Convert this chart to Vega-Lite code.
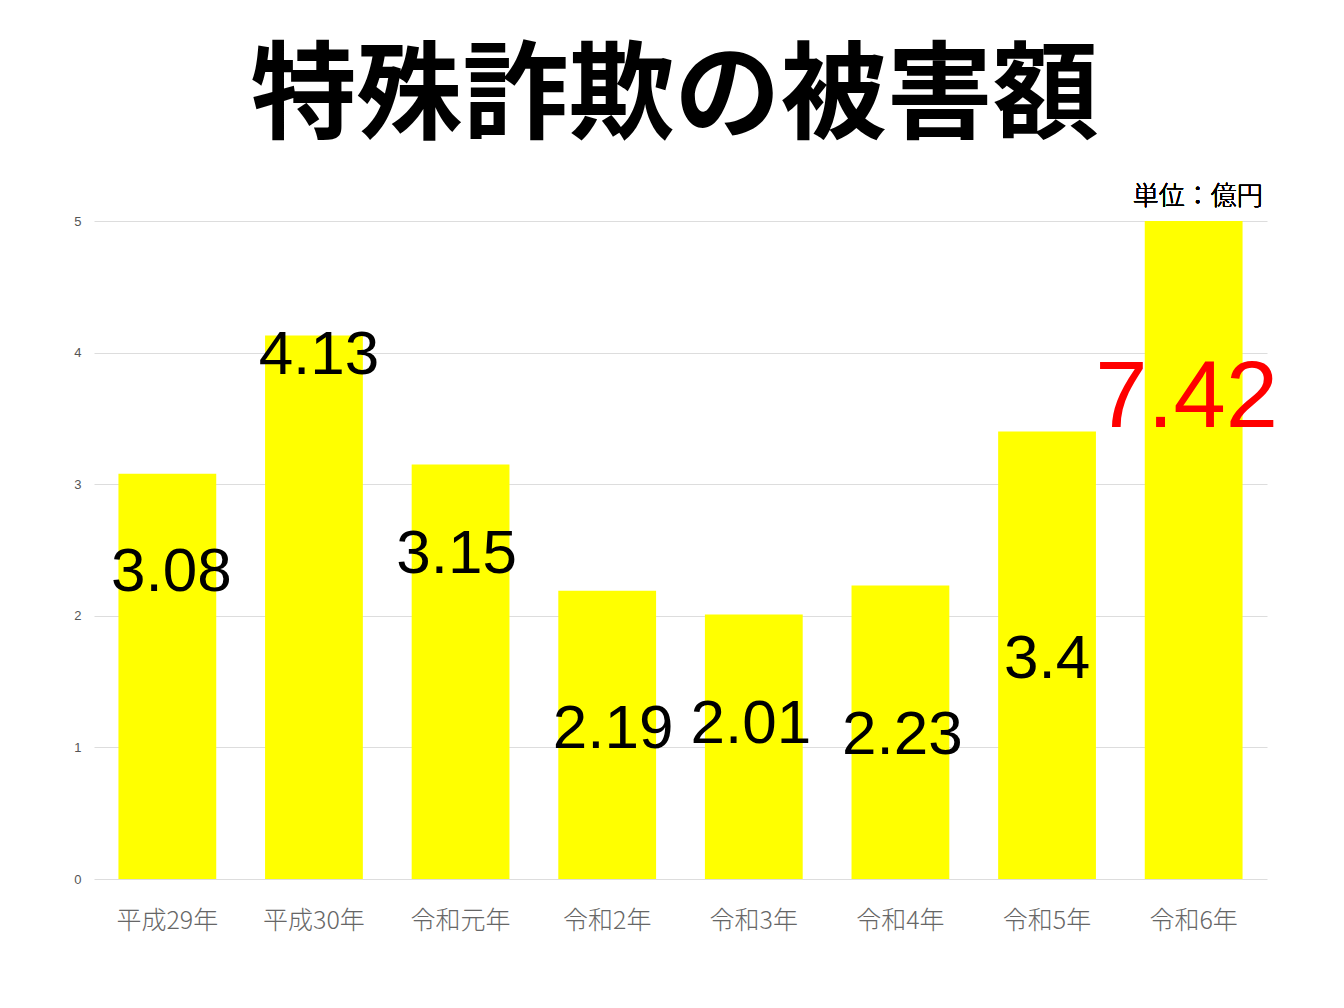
{
  "$schema": "https://vega.github.io/schema/vega-lite/v6.json",
  "width": 1173,
  "height": 658,
  "autosize": "none",
  "padding": {"left": 94, "top": 221, "right": 77, "bottom": 129},
  "background": "white",
  "title": {
    "text": "特殊詐欺の被害額",
    "font": "Noto Sans CJK JP",
    "fontSize": 106,
    "fontWeight": "bold",
    "color": "#000000",
    "anchor": "middle",
    "baseline": "alphabetic",
    "offset": -52,
    "dx": -6
  },
  "config": {"view": {"stroke": null}},
  "data": {
    "values": [
      {"year": "平成29年", "value": 3.08},
      {"year": "平成30年", "value": 4.13},
      {"year": "令和元年", "value": 3.15},
      {"year": "令和2年", "value": 2.19},
      {"year": "令和3年", "value": 2.01},
      {"year": "令和4年", "value": 2.23},
      {"year": "令和5年", "value": 3.4},
      {"year": "令和6年", "value": 7.42}
    ]
  },
  "encoding": {
    "x": {
      "field": "year",
      "type": "nominal",
      "sort": null,
      "scale": {"paddingInner": 0.333, "paddingOuter": 0.1667},
      "axis": {
        "title": null,
        "labelAngle": 0,
        "domain": false,
        "ticks": false,
        "labelFont": "Noto Sans CJK JP",
        "labelFontSize": 25,
        "labelFontWeight": 300,
        "labelColor": "#666666",
        "labelPadding": 29
      }
    }
  },
  "layer": [
    {
      "mark": {"type": "bar", "color": "#FFFF00"},
      "encoding": {
        "y": {
          "field": "value",
          "type": "quantitative",
          "scale": {"domain": [0, 5], "clamp": true, "nice": false},
          "axis": {
            "title": null,
            "values": [0, 1, 2, 3, 4, 5],
            "format": "d",
            "grid": true,
            "gridColor": "#dddddd",
            "domain": false,
            "ticks": false,
            "labelFont": "Liberation Sans",
            "labelFontSize": 13,
            "labelColor": "#555555",
            "labelPadding": 13
          }
        }
      }
    },
    {
      "transform": [{"filter": "datum.year === '平成29年'"}],
      "mark": {"type": "text", "font": "Liberation Sans", "fontSize": 62, "color": "#000000", "baseline": "alphabetic", "dx": 4},
      "encoding": {"y": {"datum": 2.19, "type": "quantitative"}, "text": {"field": "value", "type": "nominal"}}
    },
    {
      "transform": [{"filter": "datum.year === '平成30年'"}],
      "mark": {"type": "text", "font": "Liberation Sans", "fontSize": 62, "color": "#000000", "baseline": "alphabetic", "dx": 5},
      "encoding": {"y": {"datum": 3.84, "type": "quantitative"}, "text": {"field": "value", "type": "nominal"}}
    },
    {
      "transform": [{"filter": "datum.year === '令和元年'"}],
      "mark": {"type": "text", "font": "Liberation Sans", "fontSize": 62, "color": "#000000", "baseline": "alphabetic", "dx": -4},
      "encoding": {"y": {"datum": 2.325, "type": "quantitative"}, "text": {"field": "value", "type": "nominal"}}
    },
    {
      "transform": [{"filter": "datum.year === '令和2年'"}],
      "mark": {"type": "text", "font": "Liberation Sans", "fontSize": 62, "color": "#000000", "baseline": "alphabetic", "dx": 6},
      "encoding": {"y": {"datum": 0.995, "type": "quantitative"}, "text": {"field": "value", "type": "nominal"}}
    },
    {
      "transform": [{"filter": "datum.year === '令和3年'"}],
      "mark": {"type": "text", "font": "Liberation Sans", "fontSize": 62, "color": "#000000", "baseline": "alphabetic", "dx": -3},
      "encoding": {"y": {"datum": 1.033, "type": "quantitative"}, "text": {"field": "value", "type": "nominal"}}
    },
    {
      "transform": [{"filter": "datum.year === '令和4年'"}],
      "mark": {"type": "text", "font": "Liberation Sans", "fontSize": 62, "color": "#000000", "baseline": "alphabetic", "dx": 2},
      "encoding": {"y": {"datum": 0.95, "type": "quantitative"}, "text": {"field": "value", "type": "nominal"}}
    },
    {
      "transform": [{"filter": "datum.year === '令和5年'"}],
      "mark": {"type": "text", "font": "Liberation Sans", "fontSize": 62, "color": "#000000", "baseline": "alphabetic", "dx": 0},
      "encoding": {"y": {"datum": 1.527, "type": "quantitative"}, "text": {"field": "value", "type": "nominal"}}
    },
    {
      "transform": [{"filter": "datum.year === '令和6年'"}],
      "mark": {"type": "text", "font": "Liberation Sans", "fontSize": 94, "color": "#FF0000", "baseline": "alphabetic", "dx": -7},
      "encoding": {"y": {"datum": 3.435, "type": "quantitative"}, "text": {"field": "value", "type": "nominal"}}
    },
    {
      "mark": {"type": "text", "font": "Noto Sans CJK JP", "fontSize": 26, "fontWeight": 300, "color": "#000000", "baseline": "alphabetic", "dx": 4, "dy": -16, "text": "単位：億円"},
      "encoding": {"x": {"datum": "令和6年"}, "y": {"datum": 5, "type": "quantitative"}}
    }
  ]
}
